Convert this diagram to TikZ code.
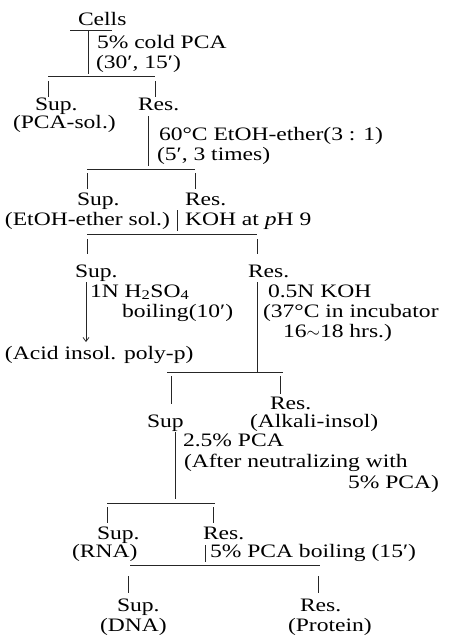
\documentclass[tikz,border=0pt]{standalone}
\usepackage{fontspec}
\setmainfont{Liberation Serif}[FakeStretch=1.24]
\usetikzlibrary{arrows.meta}
\newcommand\fsz{\fontsize{19}{19}\selectfont}
\begin{document}
\begin{tikzpicture}[x=1pt,y=-1pt,
  txt/.style={anchor=base west,inner sep=0pt,outer sep=0pt,font=\fsz},
  ln/.style={line width=0.75pt,draw=black!85}]
\useasboundingbox (0,0) rectangle (462,641);
% texts
\node[txt] (cells) at (78,25) {Cells};
\node[txt] (r1) at (97,48) {5\% cold PCA};
\node[txt] (r1b) at (96,68) {(30′, 15′)};
\node[txt] (sup1) at (35,110) {Sup.};
\node[txt] (res1) at (138,110) {Res.};
\node[txt] (pcasol) at (13,128) {(PCA-sol.)};
\node[txt] (r2) at (159,140) {60°C EtOH-ether(3 : 1)};
\node[txt] (r2b) at (157,160) {(5′, 3 times)};
\node[txt] (sup2) at (77,205) {Sup.};
\node[txt] (res2) at (185,205) {Res.};
\node[txt] (etoh) at (5,225) {(EtOH-ether sol.)};
\node[txt] (r3) at (185,225) {KOH at \textit{p}H 9};
\node[txt] (sup3) at (75,277) {Sup.};
\node[txt] (res3) at (248,277) {Res.};
\node[txt] (r4) at (90,297) {1N H\textsubscript{2}SO\textsubscript{4}};
\node[txt] (r4b) at (122,317) {boiling(10′)};
\node[txt] (r5) at (268,297) {0.5N KOH};
\node[txt] (r5b) at (263,317) {(37°C in incubator};
\node[txt] (r5c) at (283,337) {16\ensuremath{\sim}18 hrs.)};
\node[txt] (acid) at (5,359) {(Acid insol. poly-p)};
\node[txt] (res4) at (270,409) {Res.};
\node[txt] (sup4) at (147,427) {Sup};
\node[txt] (alk) at (250,427) {(Alkali-insol)};
\node[txt] (r6) at (183,446) {2.5\% PCA};
\node[txt] (r6b) at (184,467) {(After neutralizing with};
\node[txt] (r6c) at (348,488) {5\% PCA)};
\node[txt] (sup5) at (97,539) {Sup.};
\node[txt] (res5) at (203,539) {Res.};
\node[txt] (rna) at (72,557) {(RNA)};
\node[txt] (r7) at (210,557) {5\% PCA boiling (15′)};
\node[txt] (sup6) at (117,611) {Sup.};
\node[txt] (res6) at (300,611) {Res.};
\node[txt] (dna) at (100,631) {(DNA)};
\node[txt] (prot) at (288,631) {(Protein)};
% coordinates
\coordinate (u0a) at (70,30); \coordinate (u0b) at (112,30);
\coordinate (s0a) at (88,30); \coordinate (s0b) at (88,74);
\coordinate (b1a) at (48,76); \coordinate (b1b) at (155,76);
\coordinate (l1a) at (48,81); \coordinate (l1b) at (48,97);
\coordinate (l1c) at (155,81); \coordinate (l1d) at (155,97);
\coordinate (s1a) at (148,116); \coordinate (s1b) at (148,166);
\coordinate (b2a) at (87,169); \coordinate (b2b) at (195,169);
\coordinate (l2a) at (87,173); \coordinate (l2b) at (87,189);
\coordinate (l2c) at (195,173); \coordinate (l2d) at (195,189);
\coordinate (s2a) at (177,210); \coordinate (s2b) at (177,231);
\coordinate (b3a) at (87,234); \coordinate (b3b) at (257,234);
\coordinate (l3a) at (87,239); \coordinate (l3b) at (87,254);
\coordinate (l3c) at (257,239); \coordinate (l3d) at (257,254);
\coordinate (s3a) at (86,282); \coordinate (s3b) at (86,342);
\coordinate (s4a) at (257,282); \coordinate (s4b) at (257,372);
\coordinate (b4a) at (167,372); \coordinate (b4b) at (283,372);
\coordinate (l4a) at (171,376); \coordinate (l4b) at (171,404);
\coordinate (l4c) at (280,376); \coordinate (l4d) at (280,394);
\coordinate (s5a) at (175,432); \coordinate (s5b) at (175,499);
\coordinate (b5a) at (107,503); \coordinate (b5b) at (215,503);
\coordinate (l5a) at (107,507); \coordinate (l5b) at (107,523);
\coordinate (l5c) at (213,507); \coordinate (l5d) at (213,523);
\coordinate (s6a) at (205,545); \coordinate (s6b) at (205,562);
\coordinate (b6a) at (130,565); \coordinate (b6b) at (320,565);
\coordinate (l6a) at (128,576); \coordinate (l6b) at (128,593);
\coordinate (l6c) at (318,576); \coordinate (l6d) at (318,593);
% connectors
\draw[ln] (u0a) -- (u0b);
\draw[ln] (s0a) -- (s0b);
\draw[ln] (b1a) -- (b1b);
\draw[ln] (l1a) -- (l1b);
\draw[ln] (l1c) -- (l1d);
\draw[ln] (s1a) -- (s1b);
\draw[ln] (b2a) -- (b2b);
\draw[ln] (l2a) -- (l2b);
\draw[ln] (l2c) -- (l2d);
\draw[ln] (s2a) -- (s2b);
\draw[ln] (b3a) -- (b3b);
\draw[ln] (l3a) -- (l3b);
\draw[ln] (l3c) -- (l3d);
\draw[ln,-{Straight Barb[length=4pt,width=6pt]}] (s3a) -- (s3b);
\draw[ln] (s4a) -- (s4b);
\draw[ln] (b4a) -- (b4b);
\draw[ln] (l4a) -- (l4b);
\draw[ln] (l4c) -- (l4d);
\draw[ln] (s5a) -- (s5b);
\draw[ln] (b5a) -- (b5b);
\draw[ln] (l5a) -- (l5b);
\draw[ln] (l5c) -- (l5d);
\draw[ln] (s6a) -- (s6b);
\draw[ln] (b6a) -- (b6b);
\draw[ln] (l6a) -- (l6b);
\draw[ln] (l6c) -- (l6d);
\end{tikzpicture}
\end{document}
